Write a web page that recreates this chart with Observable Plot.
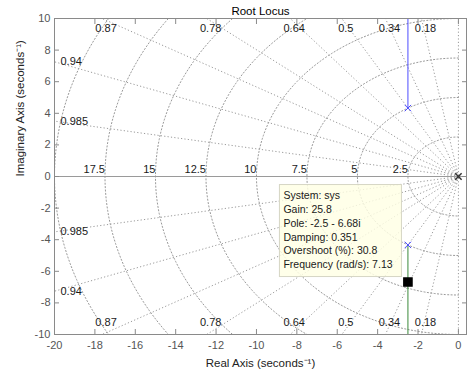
<!DOCTYPE html>
<html>
<head>
<meta charset="utf-8">
<script src="https://cdn.jsdelivr.net/npm/d3@7"></script>
<script src="https://cdn.jsdelivr.net/npm/@observablehq/plot@0.6"></script>
<style>
  body { margin: 0; background: #fff; }
  #chart svg { font-family: "Liberation Sans", Arial, sans-serif; overflow: visible; }
</style>
</head>
<body>
<div id="chart"></div>
<script>
// ---- data ----
const titleText = "Root Locus";
const xLabelText = "Real Axis (seconds⁻¹)";
const yLabelText = "Imaginary Axis (seconds⁻¹)";
const xTicks = [-20, -18, -16, -14, -12, -10, -8, -6, -4, -2, 0];
const yTicks = [-10, -8, -6, -4, -2, 0, 2, 4, 6, 8, 10];
const dampingValues = [0.18, 0.34, 0.5, 0.64, 0.78, 0.87, 0.94, 0.985];
const dampingLabels = ["0.18", "0.34", "0.5", "0.64", "0.78", "0.87", "0.94", "0.985"];
const freqValues = [2.5, 5, 7.5, 10, 12.5, 15, 17.5, 20];
const freqLabels = ["2.5", "5", "7.5", "10", "12.5", "15", "17.5", ""];
// root locus branches (real, imag)
const upperBranchRe = [-2.5, -2.5];
const upperBranchIm = [4.33, 10];
const lowerBranchRe = [-2.5, -2.5];
const lowerBranchIm = [-4.33, -10];
const upperPole = {re: -2.5, im: 4.33};
const lowerPole = {re: -2.5, im: -4.33};
const originPole = {re: 0, im: 0};
// data tip
const tipPoint = {re: -2.5, im: -6.68};
const tipLines = ["System: sys", "Gain: 25.8", "Pole: -2.5 - 6.68i", "Damping: 0.351", "Overshoot (%): 30.8", "Frequency (rad/s): 7.13"];

// ---- derived geometry ----
const gridColor = "#9a9a9a";
const dash = "1.2,2.2";
const xMin = -20, xMax = 0.4, yMin = -10, yMax = 10;

const rays = [];
dampingValues.forEach(z => {
  const s = Math.sqrt(1 - z * z), R = 40;
  rays.push({x1: 0, y1: 0, x2: -z * R, y2: s * R});
  rays.push({x1: 0, y1: 0, x2: -z * R, y2: -s * R});
});
const arcs = [];
freqValues.forEach(w => {
  for (let a = 90; a <= 270; a += 1) {
    const t = a * Math.PI / 180;
    arcs.push({w, x: w * Math.cos(t), y: w * Math.sin(t)});
  }
});
const topLabels = [], sideLabels = [];
dampingValues.forEach((z, i) => {
  const s = Math.sqrt(1 - z * z);
  const xt = -yMax * z / s;
  if (xt >= xMin) {
    topLabels.push({x: xt, y: yMax, t: dampingLabels[i]});
    topLabels.push({x: xt, y: yMin, t: dampingLabels[i], bottom: true});
  } else {
    const yt = -xMin * s / z;
    sideLabels.push({x: xMin, y: yt, t: dampingLabels[i]});
    sideLabels.push({x: xMin, y: -yt, t: dampingLabels[i]});
  }
});
const freqLabelData = freqValues.map((w, i) => ({x: -w, y: 0, t: freqLabels[i]})).filter(d => d.t);
const upperBranch = upperBranchRe.map((r, i) => ({x: r, y: upperBranchIm[i]}));
const lowerBranch = lowerBranchRe.map((r, i) => ({x: r, y: lowerBranchIm[i]}));

function tipMark(index, scales) {
  const px = scales.x(tipPoint.re), py = scales.y(tipPoint.im);
  const g = d3.create("svg:g").attr("text-anchor", "start");
  g.append("rect")
    .attr("x", px - 128).attr("y", py - 97)
    .attr("width", 122).attr("height", 92)
    .attr("fill", "#ffffe4").attr("fill-opacity", 0.82)
    .attr("stroke", "#d6d6c4");
  tipLines.forEach((t, i) => {
    g.append("text")
      .attr("x", px - 124).attr("y", py - 86 + i * 13.8)
      .attr("dy", "0.35em").attr("font-size", 10.5).attr("fill", "#1a1a1a")
      .attr("text-anchor", "start")
      .text(t);
  });
  return g.node();
}

const fmt = d => String(d);

const chart = Plot.plot({
  width: 474,
  height: 374,
  marginLeft: 54,
  marginRight: 8,
  marginTop: 18,
  marginBottom: 40,
  style: {fontSize: "11px", background: "#fff"},
  x: {domain: [xMin, xMax]},
  y: {domain: [yMin, yMax]},
  marks: [
    // grid
    Plot.link(rays, {x1: "x1", y1: "y1", x2: "x2", y2: "y2", stroke: gridColor, strokeWidth: 1, strokeDasharray: dash, clip: true}),
    Plot.line(arcs, {x: "x", y: "y", z: "w", stroke: gridColor, strokeWidth: 1, strokeDasharray: dash, clip: true}),
    Plot.ruleX([0], {stroke: gridColor, strokeWidth: 1, strokeDasharray: dash}),
    Plot.ruleY([0], {stroke: "#9a9a9a", strokeWidth: 1}),
    // grid labels
    Plot.text(topLabels.filter(d => !d.bottom), {x: "x", y: "y", text: "t", textAnchor: "middle", dx: 4, dy: 10, fill: "#1a1a1a", fontSize: 11}),
    Plot.text(topLabels.filter(d => d.bottom), {x: "x", y: "y", text: "t", textAnchor: "middle", dx: 4, dy: -12, fill: "#1a1a1a", fontSize: 11}),
    Plot.text(sideLabels, {x: "x", y: "y", text: "t", textAnchor: "start", dx: 6, dy: 0, fill: "#1a1a1a", fontSize: 11}),
    Plot.text(freqLabelData, {x: "x", y: "y", text: "t", textAnchor: "end", dx: 0, dy: -7, fill: "#1a1a1a", fontSize: 11}),
    // data tip box
    tipMark,
    // locus
    Plot.line(upperBranch, {x: "x", y: "y", stroke: "#4d4dff", strokeWidth: 1, clip: true}),
    Plot.line(lowerBranch, {x: "x", y: "y", stroke: "#3a8a3a", strokeWidth: 1, clip: true}),
    Plot.dot([upperPole], {x: "re", y: "im", symbol: "times", r: 3, stroke: "#4d4dff", strokeWidth: 1}),
    Plot.dot([lowerPole], {x: "re", y: "im", symbol: "times", r: 3, stroke: "#4d4dff", strokeWidth: 1}),
    Plot.dot([originPole], {x: "re", y: "im", symbol: "times", r: 3, stroke: "#333", strokeWidth: 1.5}),
    Plot.dot([tipPoint], {x: "re", y: "im", symbol: "square", r: 4.6, fill: "#000", stroke: "#000"}),
    // frame and axes
    Plot.frame({stroke: "#8a8a8a"}),
    Plot.axisX(xTicks, {anchor: "bottom", tickSize: -5, tickPadding: 12, tickFormat: fmt, stroke: "#8a8a8a", color: "#555", fontSize: 11}),
    Plot.axisX(xTicks, {anchor: "top", tickSize: -5, tickFormat: () => "", stroke: "#8a8a8a"}),
    Plot.axisY(yTicks, {anchor: "left", tickSize: -5, tickPadding: 9, tickFormat: fmt, stroke: "#8a8a8a", color: "#555", fontSize: 11}),
    Plot.axisY(yTicks, {anchor: "right", tickSize: -5, tickFormat: () => "", stroke: "#8a8a8a"}),
    // titles
    Plot.text([titleText], {frameAnchor: "top", dy: -12, fill: "#000", fontSize: 11.5}),
    Plot.text([xLabelText], {frameAnchor: "bottom", dy: 32, fill: "#222", fontSize: 11.5}),
    Plot.text([yLabelText], {frameAnchor: "left", dx: -34, rotate: -90, fill: "#222", fontSize: 11.5})
  ]
});
document.getElementById("chart").appendChild(chart);
</script>
</body>
</html>
